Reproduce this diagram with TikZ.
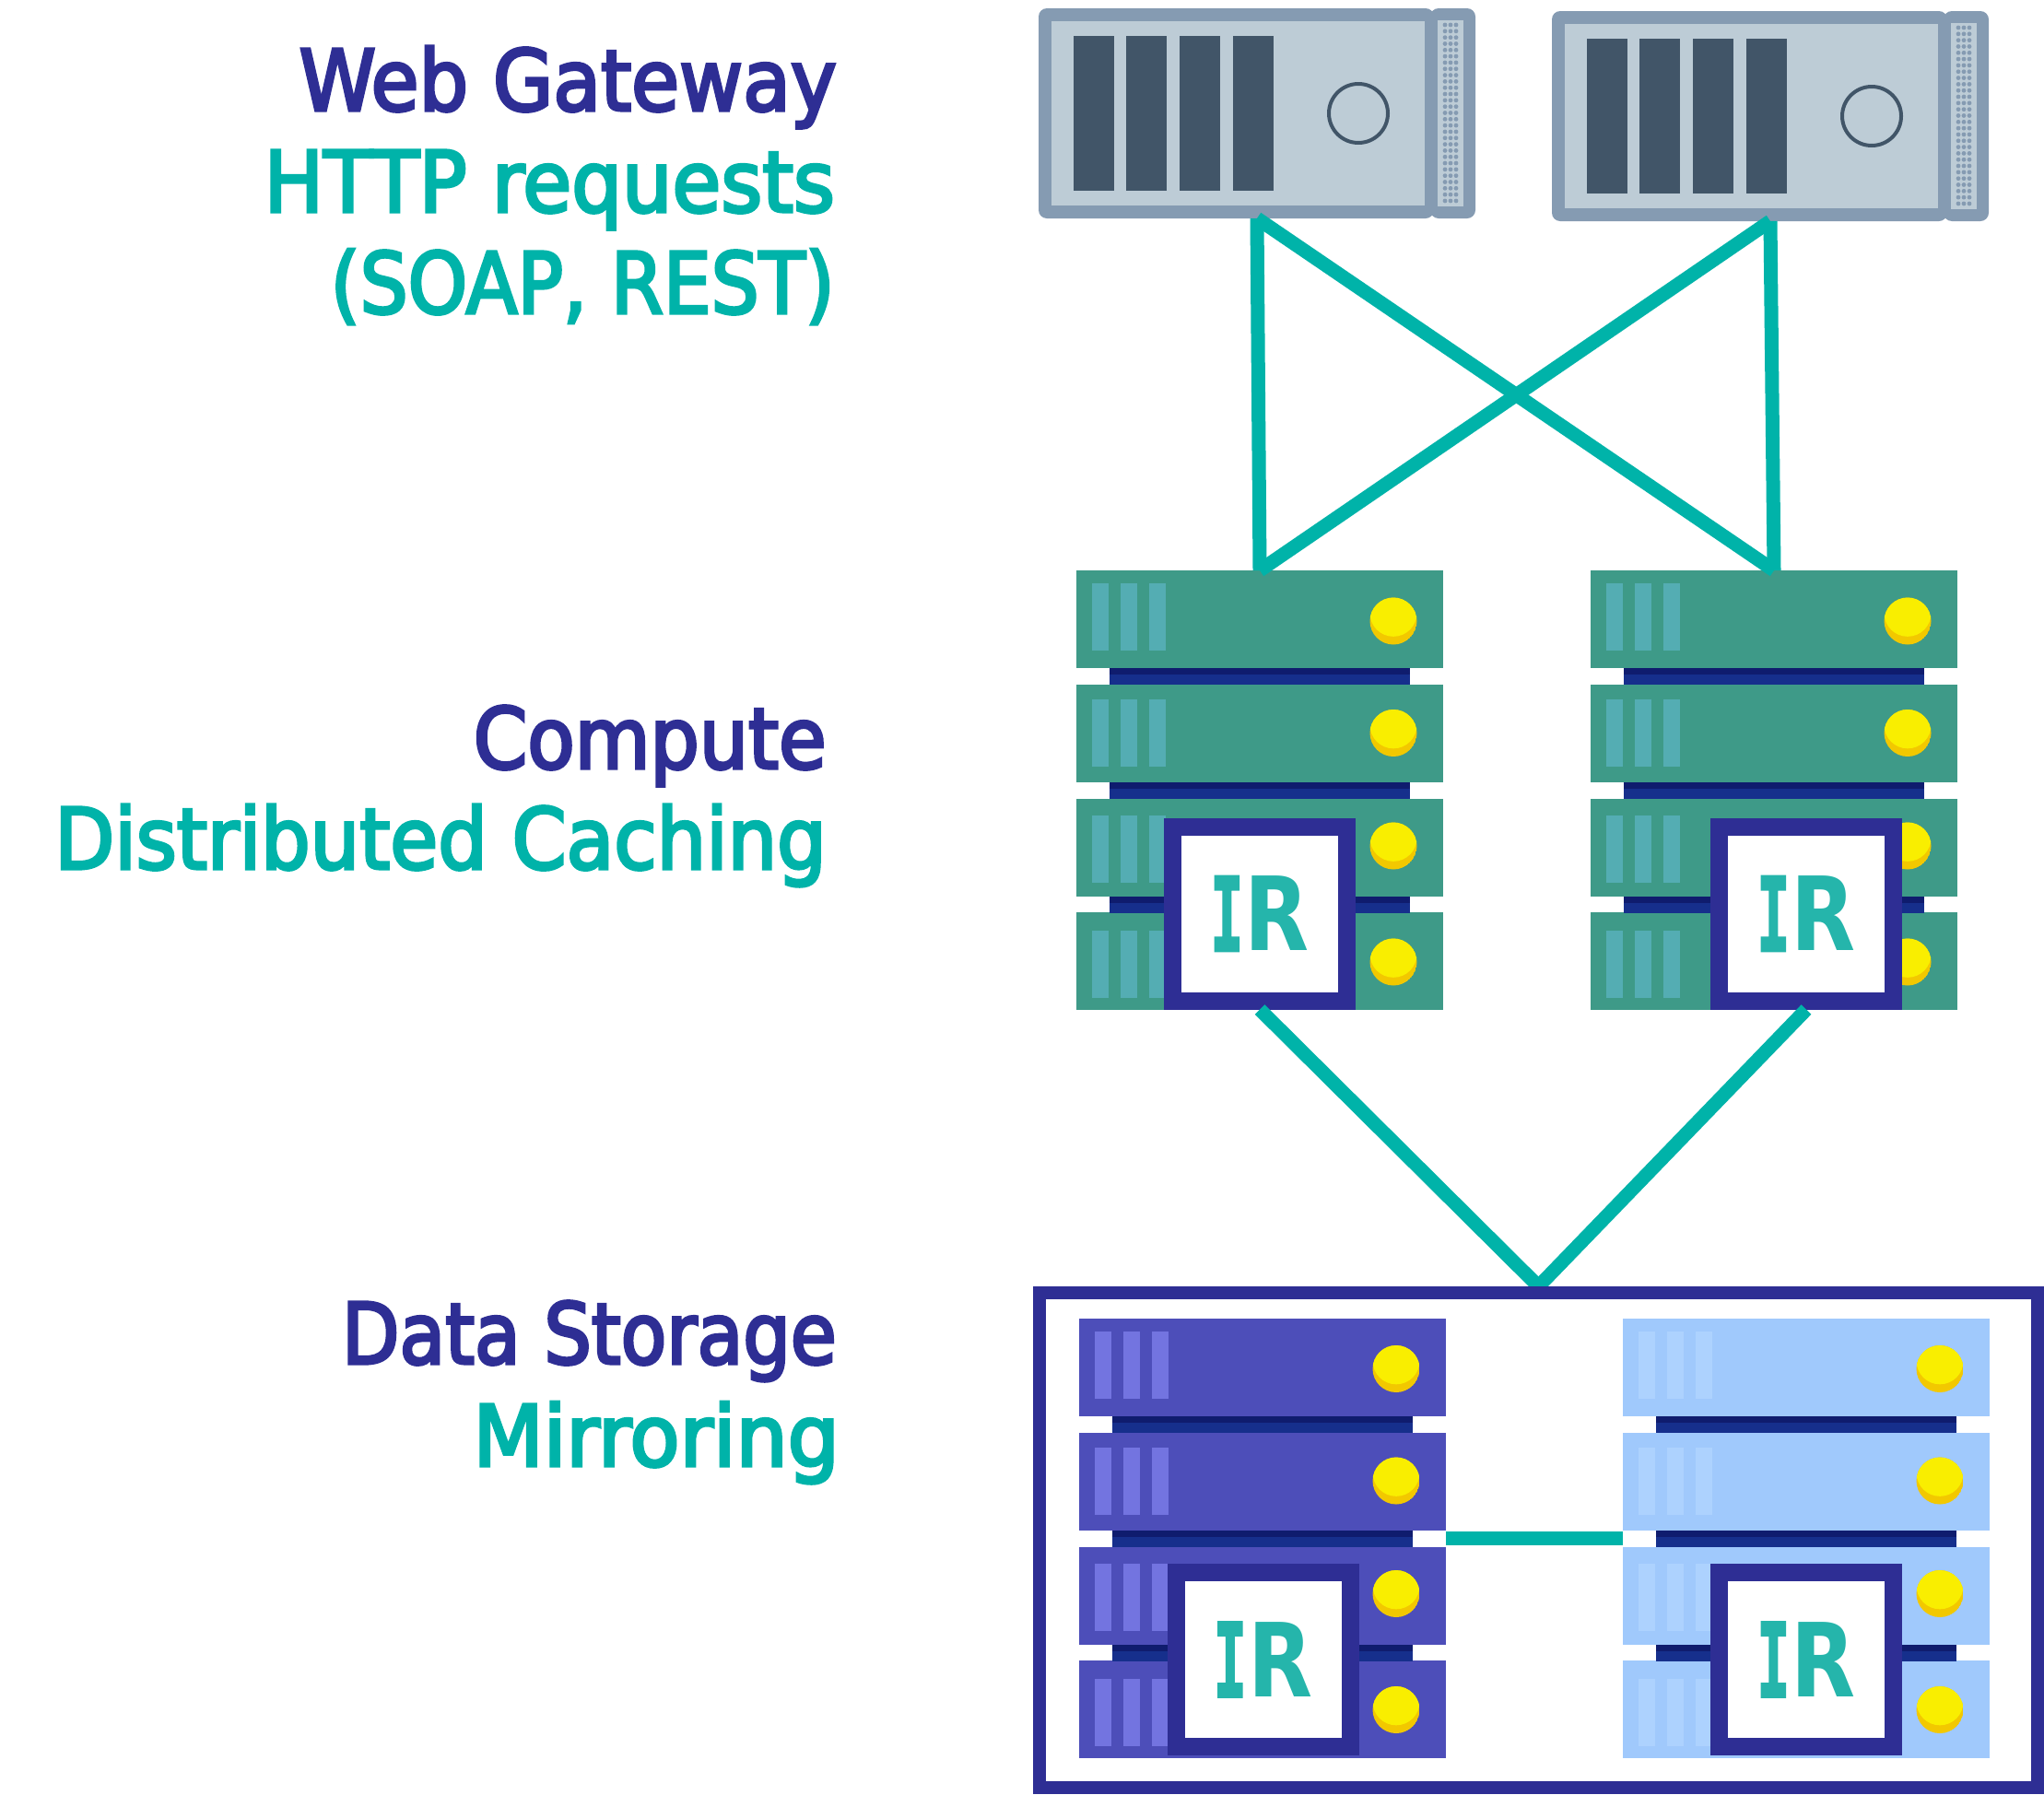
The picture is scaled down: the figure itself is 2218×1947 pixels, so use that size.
\documentclass[tikz,border=0pt]{standalone}
\usepackage{fontspec}
\setmainfont{DejaVu Sans Condensed}
\newfontfamily\labelfont[FakeBold=3.5]{DejaVu Sans Condensed}
\newfontfamily\irfont{DejaVu Sans Bold}
\newfontfamily\irmono[FakeBold=2.5]{DejaVu Sans Mono Bold}
\definecolor{navy}{HTML}{2E2E94}
\definecolor{teal2}{HTML}{00B3A9}
\definecolor{irteal}{HTML}{25B5AB}
\definecolor{srvedge}{HTML}{859BB2}
\definecolor{srvface}{HTML}{BDCCD6}
\definecolor{srvslot}{HTML}{415568}
\definecolor{spinetop}{HTML}{0F1C6E}
\definecolor{spinelow}{HTML}{162F8C}
\definecolor{ledtop}{HTML}{F9EE00}
\definecolor{ledlow}{HTML}{F2C800}
\definecolor{greenunit}{HTML}{3E9A88}
\definecolor{greenslot}{HTML}{54ADB3}
\definecolor{violetunit}{HTML}{4D4EB9}
\definecolor{violetslot}{HTML}{7374E0}
\definecolor{paleunit}{HTML}{A0C9FC}
\definecolor{paleslot}{HTML}{ADD2FE}
\tikzset{
  link/.style={draw=teal2, line width=15pt},
  title/.style={anchor=base east, inner sep=0pt, text=navy, font=\labelfont\fontsize{92}{92}\selectfont},
  detail/.style={title, text=teal2},
  irbox/.style={draw=navy, fill=white, line width=19pt, minimum size=189pt, inner sep=0pt, text=irteal,
    font=\fontsize{111}{111}\selectfont},
  rackbox/.style={anchor=north west, minimum width=398pt, minimum height=477pt, inner sep=0pt, outer sep=0pt},
  srvbox/.style={anchor=north west, minimum width=474pt, minimum height=228pt, inner sep=0pt, outer sep=0pt},
}
\newcommand{\irtext}{\scalebox{.54}[1]{\irmono I}\kern.01em\scalebox{.82}[1]{\irfont R}}
% #1 name, #2 x, #3 y, #4 unit colour, #5 slot colour
\newcommand{\rack}[5]{
\begin{scope}[shift={(#2,#3)}]
  \node[rackbox] (#1) at (0,0) {};
  \foreach \uy/\sy/\ly in {0/14/55,124/140/176.5,248/266/299,371/391/425}
  {
    \fill[#4] (0,\uy) rectangle (398,\uy+106);
    \foreach \sx in {17,48,79}
    {
      \fill[#5] (\sx,\sy) rectangle (\sx+18,\sy+73);
    }
    \begin{scope}
      \clip (344,\ly) circle (25.5pt);
      \fill[ledlow] (344,\ly) circle (25.5pt);
      \fill[ledtop] (344,\ly-8.7) circle (25.5pt);
    \end{scope}
  }
  \foreach \uy in {106,230,354}
  {
    \fill[spinelow] (36,\uy) rectangle (362,\uy+18);
    \fill[spinetop] (36,\uy) rectangle (362,\uy+7);
  }
\end{scope}
}
% #1 name, #2 x, #3 y
\newcommand{\server}[3]{
\begin{scope}[shift={(#2,#3)}]
  \node[srvbox] (#1) at (0,0) {};
  \fill[srvedge, rounded corners=9pt] (0,0) rectangle (429,228);
  \fill[srvedge, rounded corners=9pt] (425,0) rectangle (474,228);
  \fill[srvface] (14,14) rectangle (419,214);
  \fill[srvface] (433,13) rectangle (461,215);
  \foreach \sx in {38,95,153,211}
  {
    \fill[srvslot] (\sx,30) rectangle (\sx+44,198);
  }
  \draw[srvslot, line width=4pt] (347,114) circle (32pt);
  \foreach \dx in {441,447,453}
  {
    \foreach \dy in {0,...,28}
    {
      \fill[srvedge] (\dx,18+6.82*\dy) circle (2.4pt);
    }
  }
\end{scope}
}
\begin{document}
\begin{tikzpicture}[x=1pt, y=-1pt]
\useasboundingbox (0,0) rectangle (2218,1947);

\node[title] (webgw) at (908,120) {\scalebox{1.02}[1]{Web Gateway}};
\node[detail] (httpreq) at (906,230) {\scalebox{1.04}[1]{HTTP requests}};
\node[detail] (soaprest) at (906,340) {\scalebox{.99}[1]{(SOAP, REST)}};
\node[title] (compute) at (897,834) {\scalebox{1.015}[1]{Compute}};
\node[detail] (distcache) at (897,943) {\scalebox{1.02}[1]{Distributed Caching}};
\node[title] (datastore) at (908,1480) {\scalebox{.98}[1]{Data Storage}};
\node[detail] (mirror) at (911,1591) {\scalebox{1.07}[1]{Mirroring}};

\server{srva}{1127}{9}
\server{srvb}{1684}{12}

\rack{cmpa}{1168}{619}{greenunit}{greenslot}
\rack{cmpb}{1726}{619}{greenunit}{greenslot}
\rack{stoa}{1171}{1430.5}{violetunit}{violetslot}
\rack{stob}{1761}{1430.5}{paleunit}{paleslot}

\node[irbox] (ira) at (1367,991.5) {\irtext};
\node[irbox] (irb) at (1960,991.5) {\irtext};
\node[irbox] (irc) at (1370.5,1801) {\irtext};
\node[irbox] (ird) at (1960,1801) {\irtext};

\node[minimum width=1097pt, minimum height=551pt, inner sep=0pt, outer sep=0pt] (dsframe) at (1669.5,1671.5) {};

\draw[link] (srva.south)--(cmpa.north);
\draw[link] (srva.south)--(cmpb.north);
\draw[link] (srvb.south)--(cmpa.north);
\draw[link] (srvb.south)--(cmpb.north);
\draw[link] (ira.south)--(dsframe.north);
\draw[link] (irb.south)--(dsframe.north);
\draw[link] (stoa.east)--(stob.west);

\draw[draw=navy, line width=14pt] ([xshift=7pt,yshift=-7pt]dsframe.north west) rectangle ([xshift=-7pt,yshift=7pt]dsframe.south east);
\end{tikzpicture}
\end{document}
